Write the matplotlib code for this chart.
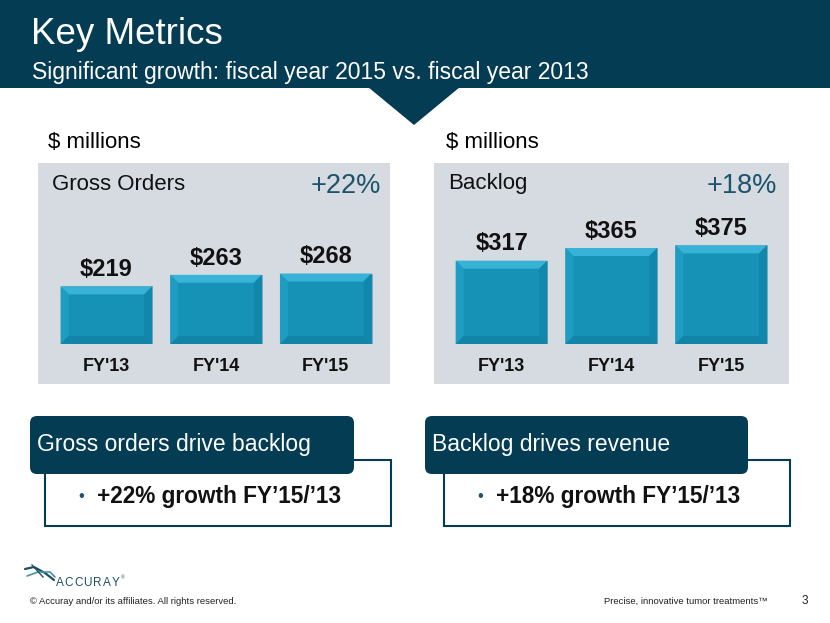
import matplotlib
matplotlib.use("Agg")
import matplotlib.pyplot as plt
from matplotlib.patches import Rectangle, Polygon, FancyBboxPatch

# ---------------- data ----------------
years = ["FY'13", "FY'14", "FY'15"]
gross_orders = [219, 263, 268]
backlog = [317, 365, 375]
gross_growth = "+22%"
backlog_growth = "+18%"
title = "Key Metrics"
subtitle = "Significant growth: fiscal year 2015 vs. fiscal year 2013"

DARK = "#043C53"
PANEL = "#D5DBE0"
BAR = "#1792B7"
TEAL_TXT = "#1D536B"
FONT = "Liberation Sans"

plt.rcParams['font.family'] = [FONT, 'DejaVu Sans']

W, H = 830, 623
fig = plt.figure(figsize=(W / 100, H / 100), dpi=100)
fig.patch.set_facecolor("white")

bg = fig.add_axes([0, 0, 1, 1])
bg.set_xlim(0, W)
bg.set_ylim(H, 0)
bg.axis("off")
bg.set_zorder(0)

# header band
bg.add_patch(Rectangle((0, 0), W, 88, color=DARK, lw=0))
bg.add_patch(Polygon([(368, 87), (460, 87), (414, 125)], closed=True, color=DARK, lw=0))
bg.text(31, 35, title, color="white", fontsize=26.5, va="center", ha="left")
bg.text(32, 72, subtitle, color="white", fontsize=16.5, va="center", ha="left")

# grey panels
bg.add_patch(Rectangle((38, 163), 352, 221, color=PANEL, lw=0))
bg.add_patch(Rectangle((434, 163), 355, 221, color=PANEL, lw=0))

bg.text(48, 143, "$ millions", fontsize=16, va="center", ha="left", color="black")
bg.text(446, 143, "$ millions", fontsize=16, va="center", ha="left", color="black")
bg.text(52, 185, "Gross Orders", fontsize=16, va="center", ha="left", color="#111111")
bg.text(448, 183, "Backlog", fontsize=16, va="center", ha="left", color="#111111")
bg.text(381, 186, gross_growth, fontsize=19.5, va="center", ha="right", color=TEAL_TXT)
bg.text(777, 186, backlog_growth, fontsize=19.5, va="center", ha="right", color=TEAL_TXT)


def to_frac(x0, y_top, x1, y_bot):
    return [x0 / W, 1 - y_bot / H, (x1 - x0) / W, (y_bot - y_top) / H]


PX_PER_UNIT = 0.263
Y_TOP, Y_BASE = 164, 344
ymax = (Y_BASE - Y_TOP) / PX_PER_UNIT


def bar_panel(left_px, right_px, values):
    ax = fig.add_axes(to_frac(left_px, Y_TOP, right_px, Y_BASE))
    ax.set_zorder(2)
    ax.patch.set_alpha(0)
    ax.set_xlim(-0.5, len(values) - 0.5)
    ax.set_ylim(0, ymax)
    ax.axis("off")
    bars = ax.bar(range(len(values)), values, width=0.835, color=BAR,
                  edgecolor="#7FA9B8", linewidth=0.6)
    fig.canvas.draw()
    inv = bg.transData.inverted()
    d = 8
    for b, v, lab in zip(bars, values, years):
        x, y = b.get_x(), b.get_y()
        w, h = b.get_width(), b.get_height()
        (px0, py1), (px1, py0) = inv.transform(ax.transData.transform([(x, y), (x + w, y + h)]))
        top = [(px0, py0), (px1, py0), (px1 - d, py0 + d), (px0 + d, py0 + d)]
        bot = [(px0, py1), (px1, py1), (px1 - d, py1 - d), (px0 + d, py1 - d)]
        lft = [(px0, py0), (px0 + d, py0 + d), (px0 + d, py1 - d), (px0, py1)]
        rgt = [(px1, py0), (px1 - d, py0 + d), (px1 - d, py1 - d), (px1, py1)]
        for poly, c in [(top, "#38B3D7"), (lft, "#1E9DC2"), (rgt, "#1287AC"), (bot, "#1284A7")]:
            ax.add_patch(Polygon(poly, closed=True, transform=bg.transData,
                                 facecolor=c, edgecolor="none", zorder=3))
        ax.annotate(f"${v}", (x + w / 2, y + h), xytext=(0, 12), textcoords="offset points",
                    ha="center", va="center", fontsize=17, fontweight="bold", color="#111111",
                    annotation_clip=False)
        ax.annotate(lab, (x + w / 2, 0), xytext=(0, -16), textcoords="offset points",
                    ha="center", va="center", fontsize=13, fontweight="bold", color="#111111",
                    annotation_clip=False)
    return ax


bar_panel(51.5, 380.6, gross_orders)
bar_panel(446.6, 776.1, backlog)


# bottom callout boxes
def callout(x_dark, x_dark_r, x_out, x_out_r, head, bullet):
    bg.add_patch(Rectangle((x_out, 460), x_out_r - x_out, 66, facecolor="white",
                           edgecolor=DARK, lw=1.5, zorder=1))
    bg.add_patch(FancyBboxPatch((x_dark, 416), x_dark_r - x_dark, 58,
                                boxstyle="round,pad=0,rounding_size=7",
                                facecolor=DARK, edgecolor="none", zorder=2))
    bg.text(x_dark + 7, 445, head, color="white", fontsize=16.5, va="center", ha="left", zorder=3)
    bg.text(x_out + 33, 497, "•", color=TEAL_TXT, fontsize=12, va="center", ha="left", zorder=3)
    bg.text(x_out + 52, 497, bullet, color="#111111", fontsize=16.3, fontweight="bold",
            va="center", ha="left", zorder=3)


callout(30, 354, 45, 391, "Gross orders drive backlog", "+22% growth FY\u201915/\u201913")
callout(425, 748, 444, 790, "Backlog drives revenue", "+18% growth FY\u201915/\u201913")

# footer logo
for i, ch in enumerate("ACCURAY"):
    bg.text(59.5 + i * 9.4, 583, ch, fontsize=8.5, color="#1F4F66", va="center", ha="center")
bg.text(121, 578, "\u00ae", fontsize=3.5, color="#1F4F66", va="center", ha="left")
bg.plot([25, 34, 45, 54], [569, 567, 573, 580], color="#1F4F66", lw=1.6, solid_capstyle="round")
bg.plot([27, 38, 50, 55], [576, 572, 572, 577], color="#4A90A8", lw=1.2, solid_capstyle="round")
bg.plot([32, 43], [565, 577], color="#1F4F66", lw=1.0)

bg.text(30, 601, "\u00a9 Accuray and/or its affiliates. All rights reserved.", fontsize=6.8,
        color="#222222", va="center", ha="left")
bg.text(768, 601, "Precise, innovative tumor treatments\u2122", fontsize=6.8,
        color="#222222", va="center", ha="right")
bg.text(805, 601, "3", fontsize=8.5, color="#222222", va="center", ha="center")

fig.savefig("out.png", dpi=100, facecolor="white")
